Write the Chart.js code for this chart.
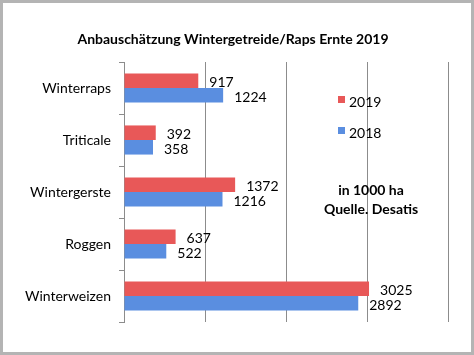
<!DOCTYPE html>
<html>
<head>
<meta charset="utf-8">
<script src="https://cdn.jsdelivr.net/npm/chart.js@4/dist/chart.umd.min.js"></script>
<style>
html,body{margin:0;padding:0;background:#fff;}
#wrap{position:relative;width:474px;height:355px;}
</style>
</head>
<body>
<div id="wrap"><canvas id="c" width="474" height="355"></canvas></div>
<script>
const categories = ['Winterraps', 'Triticale', 'Wintergerste', 'Roggen', 'Winterweizen'];
const values2019 = [917, 392, 1372, 637, 3025];
const values2018 = [1224, 358, 1216, 522, 2892];
const seriesNames = ['2019', '2018'];
const titleText = 'Anbauschätzung Wintergetreide/Raps Ernte 2019';
const noteLines = ['in 1000 ha', 'Quelle. Desatis'];

const FONT = 'Lato, "Open Sans", sans-serif';
const RED = '#e85858';
const BLUE = '#5a8ee0';

function grad(ctx, top, bottom, light, dark) {
  const g = ctx.createLinearGradient(0, top, 0, bottom);
  g.addColorStop(0, light);
  g.addColorStop(0.5, dark);
  g.addColorStop(1, dark);
  return g;
}

const extras = {
  id: 'extras',
  afterDatasetsDraw(chart) {
    const ctx = chart.ctx;
    ctx.save();
    // data labels
    ctx.font = '14px ' + FONT;
    ctx.fillStyle = '#000';
    ctx.textBaseline = 'middle';
    ctx.textAlign = 'left';
    chart.data.datasets.forEach((ds, di) => {
      const meta = chart.getDatasetMeta(di);
      meta.data.forEach((bar, i) => {
        ctx.fillText(String(ds.data[i]), bar.x + 11, bar.y + 2);
      });
    });
    // title
    ctx.font = 'bold 14px ' + FONT;
    ctx.textAlign = 'center';
    ctx.fillText(titleText, 233, 39);
    // legend
    ctx.font = '14px ' + FONT;
    ctx.textAlign = 'left';
    const lx = 338, ly = [101, 132];
    const cols = [RED, BLUE];
    seriesNames.forEach((n, i) => {
      ctx.fillStyle = cols[i];
      ctx.fillRect(lx, ly[i] - 5, 7, 7);
      ctx.fillStyle = '#000';
      ctx.fillText(n, lx + 11, ly[i] + 1);
    });
    // note
    ctx.font = 'bold 14px ' + FONT;
    ctx.textAlign = 'center';
    ctx.fillText(noteLines[0], 371, 190);
    ctx.fillText(noteLines[1], 371, 209);
    // frame
    ctx.strokeStyle = '#b4b4b4';
    ctx.lineWidth = 3;
    ctx.strokeRect(1.5, 1.5, 471, 352);
    ctx.restore();
  }
};

new Chart(document.getElementById('c'), {
  type: 'bar',
  data: {
    labels: categories,
    datasets: [
      {
        label: seriesNames[0],
        data: values2019,
        backgroundColor: (c) => {
          const a = c.chart.chartArea;
          return RED;
        },
        barPercentage: 1,
        categoryPercentage: 0.56
      },
      {
        label: seriesNames[1],
        data: values2018,
        backgroundColor: BLUE,
        barPercentage: 1,
        categoryPercentage: 0.56
      }
    ]
  },
  plugins: [extras],
  options: {
    indexAxis: 'y',
    responsive: false,
    animation: false,
    layout: { padding: { top: 62, right: 26, bottom: 33, left: 0 } },
    plugins: { legend: { display: false }, tooltip: { enabled: false }, title: { display: false } },
    scales: {
      x: {
        min: 0, max: 4000,
        ticks: { display: false, stepSize: 1000 },
        grid: { color: '#8c8c8c', lineWidth: 1, drawTicks: false },
        border: { display: false }
      },
      y: {
        afterFit(scale) { scale.width = 124; },
        ticks: { color: '#000', font: { family: FONT, size: 14 }, padding: 8 },
        grid: { offset: true, drawOnChartArea: false, drawTicks: true, tickLength: 5, color: '#8c8c8c' },
        border: { display: true, color: '#8c8c8c' }
      }
    }
  }
});
</script>
</body>
</html>
